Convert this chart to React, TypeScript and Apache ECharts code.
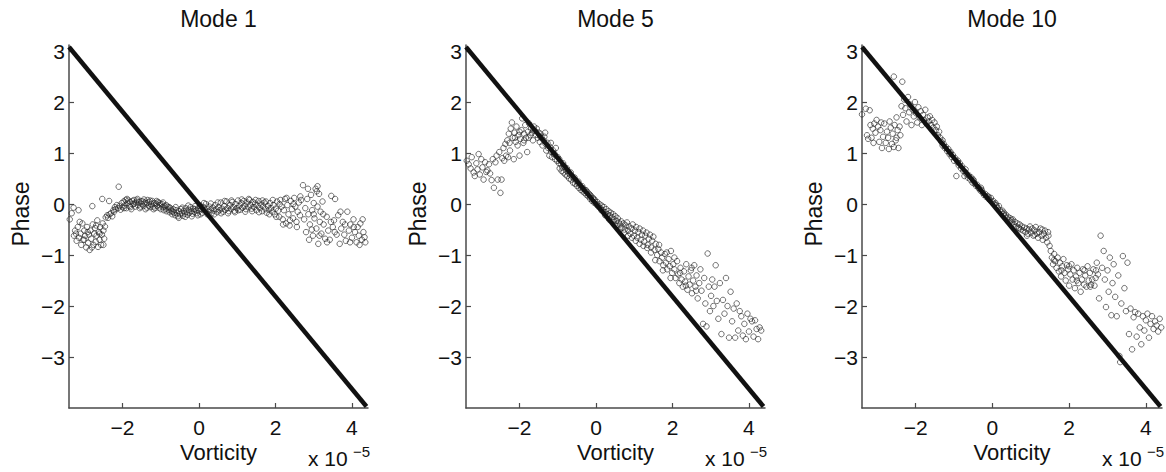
import React, { useEffect, useRef } from "react";
import * as echarts from "echarts";

// ---------- DATA (vorticity in units of 1e-5, phase in radians) ----------
const TITLES = ["Mode 1", "Mode 5", "Mode 10"];
const X_TICKS = [-2, 0, 2, 4];
const Y_TICKS = [-3, -2, -1, 0, 1, 2, 3];
const X_MIN = -3.4;
const X_MAX = 4.42;
const Y_MIN = -4;
const Y_MAX = 3.12;
const FIT_LINE: number[][] = [[-3.4, 3.08], [4.38, -3.97]];

const MODE1: number[][] = [
  [-3.38,-0.30],[-3.33,-0.18],[-3.28,-0.07],[-3.27,-0.62],[-3.24,-0.52],[-3.2,-0.72],[-3.17,-0.45],[-3.15,-0.12],[-3.14,-0.66],[-3.1,-0.58],
  [-3.08,-0.80],[-3.05,-0.38],[-3.03,-0.70],[-3.0,-0.52],[-2.98,-0.62],[-2.95,-0.85],[-2.93,-0.45],[-2.9,-0.76],[-2.88,-0.60],[-2.86,-0.90],
  [-2.84,-0.52],[-2.82,-0.68],[-2.79,-0.04],[-2.78,-0.40],[-2.76,-0.80],[-2.74,-0.58],[-2.72,-0.47],[-2.7,-0.74],[-2.68,-0.62],[-2.66,-0.32],
  [-2.64,-0.84],[-2.62,-0.55],[-2.6,-0.70],[-2.58,-0.45],[-2.56,-0.80],[-2.54,-0.60],[-2.53,0.10],[-2.52,-0.38],[-2.5,-0.52],[-2.48,-0.68],[-2.46,-0.44],
  [-3.22,-0.58],[-3.0,-0.70],[-2.91,-0.55],[-2.8,-0.85],[-2.69,-0.42],[-2.6,-0.58],[-2.5,-0.80],[-3.12,-0.35],
  [-2.44,-0.26],[-2.4,-0.22],[-2.38,-0.27],[-2.35,0.06],[-2.34,-0.20],[-2.3,-0.18],[-2.27,-0.24],[-2.24,-0.12],[-2.22,-0.15],[-2.2,-0.06],
  [-2.18,-0.10],[-2.15,-0.02],[-2.12,-0.08],[-2.1,0.34],[-2.08,-0.04],[-2.05,-0.11],[-2.02,0.02],[-2.0,-0.06],
  [-1.97,0.05],[-1.95,-0.03],[-1.92,0.08],[-1.9,-0.08],[-1.87,0.02],[-1.85,0.07],[-1.82,-0.04],[-1.8,0.04],[-1.77,-0.10],[-1.75,0.06],
  [-1.72,0.0],[-1.7,0.08],[-1.67,-0.05],[-1.65,0.03],[-1.62,0.07],[-1.6,-0.02],[-1.57,0.04],[-1.55,-0.08],[-1.52,0.06],[-1.5,0.0],
  [-1.47,0.05],[-1.45,-0.04],[-1.42,0.03],[-1.4,-0.10],[-1.37,0.02],[-1.35,0.08],[-1.32,-0.03],[-1.3,0.04],[-1.27,-0.06],[-1.25,0.0],
  [-1.22,0.06],[-1.2,-0.05],[-1.17,0.02],[-1.15,-0.08],[-1.12,0.01],[-1.1,-0.03],[-1.07,0.04],[-1.05,-0.07],[-1.02,-0.02],[-1.0,-0.10],
  [-0.97,0.0],[-0.95,-0.06],[-0.92,-0.12],[-0.9,-0.04],[-0.87,-0.09],[-0.85,-0.14],[-0.82,-0.05],[-0.8,-0.11],
  [-1.96,-0.08],[-1.88,0.10],[-1.79,-0.06],[-1.69,0.01],[-1.61,0.10],[-1.53,-0.05],[-1.44,0.09],[-1.36,-0.07],[-1.28,0.07],[-1.19,-0.10],
  [-1.11,0.06],[-1.03,0.02],[-0.94,0.03],[-0.86,-0.02],[-0.78,-0.06],[-0.69,-0.15],[-0.61,-0.06],[-0.53,-0.27],[-0.44,-0.07],[-0.36,-0.25],
  [-0.28,-0.03],[-0.19,-0.24],[-0.11,-0.10],[-0.03,-0.22],
  [-0.77,-0.16],[-0.75,-0.08],[-0.72,-0.13],[-0.7,-0.20],[-0.67,-0.10],[-0.65,-0.17],[-0.62,-0.22],[-0.6,-0.12],[-0.57,-0.18],[-0.55,-0.24],
  [-0.52,-0.14],[-0.5,-0.20],[-0.47,-0.10],[-0.45,-0.17],[-0.42,-0.23],[-0.4,-0.13],[-0.37,-0.19],[-0.35,-0.08],[-0.32,-0.15],[-0.3,-0.21],
  [-0.27,-0.11],[-0.25,-0.17],[-0.22,-0.06],[-0.2,-0.14],[-0.17,-0.19],[-0.15,-0.09],[-0.12,-0.15],[-0.1,-0.04],[-0.07,-0.12],[-0.05,-0.18],[-0.02,-0.08],
  [0.0,-0.14],[0.03,-0.03],[0.06,-0.10],[0.09,-0.17],[0.12,-0.06],[0.15,-0.12],[0.18,0.0],[0.21,-0.09],[0.24,-0.15],[0.27,-0.05],
  [0.3,-0.11],[0.33,-0.18],[0.36,-0.07],[0.39,-0.13],[0.42,-0.02],[0.45,-0.10],[0.48,-0.16],[0.51,-0.06],[0.54,-0.12],[0.57,0.03],
  [0.6,-0.09],[0.63,-0.15],[0.66,-0.04],[0.69,-0.11],[0.72,0.05],[0.75,-0.08],[0.78,-0.14],[0.81,-0.02],[0.84,-0.09],[0.87,0.04],
  [0.9,-0.06],[0.93,-0.13],[0.96,0.0],[0.99,-0.08],[1.02,0.07],[1.05,-0.04],[1.08,-0.11],[1.11,0.02],[1.14,-0.07],[1.17,0.06],
  [1.2,-0.03],[1.23,-0.10],[1.26,0.03],[1.29,-0.05],[1.32,0.08],[1.35,-0.02],[1.38,-0.09],[1.41,0.04],[1.44,-0.06],[1.47,0.01],
  [1.5,-0.12],[1.53,-0.03],[1.56,0.06],[1.59,-0.08],[1.62,-0.01],[1.65,-0.14],[1.68,-0.05],[1.71,0.03],[1.74,-0.10],[1.77,-0.17],
  [1.8,-0.04],[1.83,-0.11],[1.86,0.02],[1.89,-0.08],[1.92,-0.15],[1.95,-0.02],[1.98,-0.20],[2.01,-0.09],[2.04,0.05],[2.07,-0.13],
  [0.04,-0.20],[0.13,0.02],[0.22,-0.20],[0.31,0.01],[0.40,-0.20],[0.49,0.03],[0.58,-0.18],[0.67,0.06],[0.76,-0.18],[0.85,0.07],
  [0.94,-0.16],[1.03,-0.12],[1.12,0.09],[1.21,-0.15],[1.30,0.10],[1.39,-0.14],[1.48,0.08],[1.57,-0.16],[1.66,0.07],[1.75,0.05],
  [1.84,-0.20],[1.93,0.08],[2.02,-0.25],
  [2.1,-0.25],[2.13,0.08],[2.16,-0.05],[2.19,-0.30],[2.22,-0.12],[2.25,0.10],[2.28,-0.38],[2.31,-0.02],[2.34,-0.20],[2.37,-0.42],
  [2.4,0.06],[2.43,-0.10],[2.46,-0.28],[2.49,0.12],[2.52,-0.05],[2.55,-0.35],[2.58,-0.15],[2.61,0.03],[2.64,-0.22],[2.67,0.08],
  [2.11,0.0],[2.2,-0.40],[2.29,0.12],[2.38,-0.32],[2.47,0.0],[2.56,-0.45],[2.65,0.15],
  [2.72,0.37],[2.75,-0.30],[2.78,-0.08],[2.8,-0.55],[2.83,0.10],[2.86,-0.20],[2.88,-0.70],[2.9,-0.40],[2.93,0.18],[2.96,-0.12],
  [2.98,-0.62],[3.0,0.02],[3.02,-0.28],[3.05,0.30],[3.07,-0.48],[3.08,0.25],[3.1,-0.05],[3.12,-0.78],[3.14,0.20],[3.16,-0.35],
  [3.18,-0.15],[3.2,-0.58],[3.23,0.05],[3.26,-0.40],[3.3,-0.68],[3.34,-0.25],[3.38,-0.52],[3.42,-0.70],[3.46,0.16],[3.5,-0.45],
  [3.53,-0.32],[3.56,0.10],[3.6,-0.60],[3.64,-0.22],[3.68,-0.78],[3.72,-0.48],[3.76,-0.35],[3.8,-0.60],[3.84,-0.72],[3.88,-0.15],
  [3.92,-0.52],[3.96,-0.40],[4.0,-0.66],[4.04,-0.30],[4.08,-0.55],[4.12,-0.75],[4.15,-0.45],[4.18,-0.62],[4.22,-0.38],[4.26,-0.70],
  [4.3,-0.55],[4.33,-0.65],
  [2.85,0.30],[2.95,-0.50],[3.0,-0.20],[3.1,0.35],[3.15,-0.62],[3.25,-0.20],[3.35,-0.75],[3.45,-0.35],[3.55,-0.55],[3.7,-0.15],
  [3.82,-0.40],[3.95,-0.75],[4.05,-0.45],[4.2,-0.80],[4.28,-0.30],[4.35,-0.75]
];

const MODE5: number[][] = [
  [-3.38,0.85],[-3.33,0.78],[-3.28,0.70],[-3.25,0.92],[-3.2,0.62],[-3.17,0.55],[-3.13,0.80],[-3.1,0.68],[-3.07,0.98],[-3.04,0.58],
  [-3.0,0.88],[-2.97,0.72],[-2.94,0.48],[-2.9,0.82],[-2.87,0.63],[-2.84,0.66],[-2.8,0.78],[-2.77,0.60],[-2.73,0.47],[-2.7,0.88],
  [-2.67,0.32],[-2.63,0.82],[-2.6,0.95],[-2.57,0.48],[-2.53,1.02],[-2.5,0.22],[-2.47,0.48],[-2.45,0.9],[-2.42,1.1],[-2.4,0.85],
  [-2.37,1.18],[-2.35,0.95],[-2.32,1.25],[-2.3,0.92],[-2.28,1.38],[-2.25,1.05],[-2.23,1.48],[-2.2,1.60],[-2.18,1.30],[-2.15,0.88],
  [-2.13,1.40],[-2.1,1.22],[-2.08,1.52],[-2.05,1.15],[-2.03,1.35],[-2.0,0.95],[-1.98,1.28],[-1.95,1.45],[-1.93,1.68],[-1.9,1.20],
  [-1.88,1.38],[-1.85,1.55],[-1.83,1.30],[-1.8,1.02],[-1.78,1.42],[-1.75,1.58],[-1.72,1.35],[-1.7,1.48],[-1.67,1.40],[-1.65,1.25],
  [-1.62,1.52],[-1.6,1.44],[-1.57,1.36],[-1.55,1.48],[-1.52,1.30],[-1.5,1.40],[-1.47,1.22],[-1.45,1.38],[-1.42,1.30],[-1.4,1.15],
  [-1.37,1.25],[-1.35,1.32],[-1.32,1.18],[-1.3,1.05],[-1.27,1.20],[-1.25,1.10],[-1.22,0.95],[-1.2,1.12],[-1.17,1.02],[-1.15,0.92],
  [-1.12,1.05],[-1.1,0.98],[-1.07,0.88],[-1.05,1.10],[-1.02,0.85],[-1.0,0.92],
  [-2.26,1.20],[-2.12,1.30],[-2.0,1.42],[-1.88,1.25],[-1.76,1.30],[-1.64,1.45],[-1.46,1.32],[-1.33,1.40],[-1.18,1.20],[-1.08,0.98],
  [-0.97,0.80],[-0.95,0.70],[-0.92,0.78],[-0.9,0.65],[-0.88,0.72],[-0.85,0.62],[-0.83,0.74],[-0.8,0.58],[-0.78,0.66],[-0.75,0.55],
  [-0.73,0.62],[-0.7,0.50],[-0.68,0.58],[-0.65,0.48],[-0.63,0.54],[-0.6,0.42],[-0.58,0.50],[-0.55,0.40],[-0.53,0.46],[-0.5,0.36],
  [-0.48,0.42],[-0.45,0.32],[-0.43,0.38],[-0.4,0.28],[-0.38,0.33],[-0.35,0.25],[-0.33,0.30],[-0.3,0.22],[-0.28,0.27],[-0.25,0.18],
  [-0.23,0.24],[-0.2,0.15],[-0.18,0.20],[-0.15,0.10],[-0.13,0.16],[-0.1,0.06],[-0.08,0.12],[-0.05,0.03],[-0.03,0.08],[0.0,0.0],
  [0.03,0.04],[0.06,-0.05],[0.09,0.0],[0.12,-0.08],[0.15,-0.03],[0.18,-0.12],[0.21,-0.06],[0.24,-0.16],[0.27,-0.10],[0.3,-0.20],
  [0.33,-0.14],[0.36,-0.22],[0.39,-0.17],[0.42,-0.26],[0.45,-0.20],[0.48,-0.30],[0.51,-0.24],[0.54,-0.33],[0.57,-0.28],[0.6,-0.36],
  [-0.96,0.88],[-0.86,0.80],[-0.76,0.70],[-0.66,0.62],[-0.56,0.52],[-0.46,0.44],[-0.36,0.35],[-0.26,0.27],[-0.16,0.18],[-0.06,0.10],
  [0.04,-0.02],[0.14,-0.12],[0.24,-0.22],[0.34,-0.30],[0.44,-0.35],[0.54,-0.42],[0.64,-0.48],[0.74,-0.56],[0.84,-0.62],[0.94,-0.66],
  [1.04,-0.72],[1.14,-0.78],[1.24,-0.82],[1.34,-0.86],[1.44,-0.95],
  [0.63,-0.40],[0.66,-0.34],[0.69,-0.46],[0.72,-0.38],[0.75,-0.50],[0.78,-0.42],[0.81,-0.36],[0.84,-0.52],[0.87,-0.44],[0.9,-0.58],
  [0.93,-0.48],[0.96,-0.40],[0.99,-0.62],[1.02,-0.52],[1.05,-0.45],[1.08,-0.66],[1.11,-0.55],[1.14,-0.48],[1.17,-0.70],[1.2,-0.60],
  [1.23,-0.52],[1.26,-0.74],[1.29,-0.62],[1.32,-0.56],[1.35,-0.80],[1.38,-0.68],[1.41,-0.60],[1.44,-0.85],[1.47,-0.72],[1.5,-0.64],
  [1.53,-0.90],[1.56,-0.78],[1.6,-1.00],[1.63,-0.88],[1.66,-1.12],[1.7,-0.95],[1.73,-1.05],[1.76,-1.20],[1.8,-0.98],[1.83,-1.15],
  [1.86,-1.28],[1.9,-1.08],[1.93,-1.22],[1.96,-0.92],[1.99,-1.35],[2.02,-1.18],[2.05,-1.28],[2.08,-1.45],[2.12,-1.12],[2.15,-1.38],
  [2.18,-1.55],[2.21,-1.25],[2.24,-1.48],[2.27,-1.62],[2.3,-1.32],[2.33,-1.52],[2.36,-1.18],[2.39,-1.68],[2.42,-1.42],[2.45,-1.58],
  [2.48,-1.30],[2.51,-1.75],[2.54,-1.50],[2.57,-1.20],[2.6,-1.62],
  [1.55,-1.10],[1.65,-0.80],[1.75,-1.30],[1.85,-0.95],[1.95,-1.45],[2.05,-1.05],[2.20,-1.35],[2.35,-1.60],[2.50,-1.25],[2.62,-1.70],
  [2.63,-1.40],[2.66,-1.85],[2.7,-1.55],[2.73,-1.28],[2.76,-1.70],[2.8,-2.35],[2.83,-1.45],[2.86,-1.95],[2.89,-2.40],[2.92,-0.97],
  [2.95,-1.62],[2.98,-2.10],[3.01,-1.80],[3.04,-1.48],[3.07,-2.00],[3.1,-1.62],[3.13,-1.20],[3.16,-1.90],[3.2,-2.25],[3.24,-1.55],
  [3.28,-2.55],[3.32,-1.88],[3.36,-2.15],[3.4,-1.45],[3.44,-2.00],[3.48,-2.62],[3.52,-1.72],[3.56,-2.30],[3.6,-2.05],[3.64,-2.62],
  [3.68,-1.95],[3.72,-2.48],[3.76,-2.10],[3.8,-2.20],[3.84,-2.58],[3.88,-2.35],[3.92,-2.65],[3.96,-2.15],[4.0,-2.50],[4.04,-2.25],
  [4.08,-2.30],[4.12,-2.60],[4.16,-2.28],[4.2,-2.45],[4.24,-2.65],[4.28,-2.42],[4.32,-2.48]
];

const MODE10: number[][] = [
  [-3.4,1.76],[-3.3,1.87],[-3.2,1.84],[-3.27,1.35],[-3.24,1.28],[-3.18,1.55],[-3.15,1.30],[-3.12,1.48],[-3.08,1.58],[-3.05,1.40],
  [-3.02,1.65],[-2.98,1.52],[-2.95,1.22],[-2.92,1.45],[-2.88,1.10],[-2.85,1.32],[-2.82,1.58],[-2.78,1.20],[-2.75,1.42],[-2.72,1.30],
  [-2.68,1.62],[-2.65,1.50],[-2.62,1.18],[-2.6,1.38],[-2.57,1.12],[-2.55,1.55],[-2.52,1.25],[-2.5,1.70],[-2.47,1.45],[-2.45,1.10],
  [-2.42,1.52],[-2.4,1.35],[-2.57,2.50],[-2.35,2.40],
  [-3.10,1.20],[-2.90,1.60],[-2.70,1.08],[-2.50,1.30],
  [-2.37,1.92],[-2.33,1.75],[-2.3,2.05],[-2.27,1.88],[-2.24,1.62],[-2.2,2.10],[-2.17,1.80],[-2.14,1.95],[-2.11,1.55],[-2.08,1.85],
  [-2.05,1.72],[-2.02,2.00],[-1.99,1.78],[-1.96,1.60],[-1.93,1.90],[-1.9,1.70],[-1.87,1.82],[-1.84,1.55],[-1.81,1.75],[-1.78,1.65],
  [-1.75,1.85],[-1.72,1.58],[-1.69,1.70],[-1.66,1.62],[-1.63,1.72],[-1.6,1.55],[-1.57,1.65],[-1.54,1.50],[-1.51,1.60],[-1.48,1.45],
  [-1.45,1.52],[-1.42,1.35],[-1.39,1.42],[-1.36,1.30],
  [-1.33,1.22],[-1.3,1.15],[-1.27,1.18],[-1.24,1.10],[-1.21,1.12],[-1.18,1.04],[-1.15,1.08],[-1.12,0.98],[-1.09,1.02],[-1.06,0.92],
  [-1.03,0.96],[-1.0,0.85],[-0.97,0.90],[-0.94,0.55],[-0.91,0.82],[-0.88,0.76],[-0.85,0.80],[-0.82,0.70],[-0.79,0.74],[-0.76,0.65],
  [-0.73,0.55],[-0.7,0.62],[-0.67,0.58],[-0.64,0.52],[-0.61,0.56],[-0.58,0.48],[-0.55,0.52],[-0.52,0.42],[-0.49,0.46],[-0.46,0.40],
  [-0.43,0.36],[-0.4,0.38],[-0.37,0.32],[-0.34,0.30],[-0.31,0.26],[-0.28,0.28],[-0.25,0.22],[-0.22,0.18],[-0.19,0.20],[-0.16,0.14],
  [-0.13,0.16],[-0.1,0.10],[-0.07,0.08],[-0.04,0.12],[-0.01,0.04],[0.02,0.06],[0.05,0.0],[0.08,0.02],[0.11,-0.05],[0.14,-0.08],
  [0.17,-0.04],[0.2,-0.12],[0.23,-0.16],[0.26,-0.13],[0.29,-0.20],[0.32,-0.24],[0.35,-0.21],[0.38,-0.28],
  [-1.30,1.25],[-1.10,1.00],[-0.90,0.85],[-0.70,0.68],[-0.50,0.48],[-0.30,0.32],[-0.10,0.14],[0.10,-0.02],[0.30,-0.17],[0.50,-0.32],
  [0.70,-0.48],[0.90,-0.62],[1.10,-0.60],[1.30,-0.50],[1.45,-0.55],
  [0.41,-0.25],[0.44,-0.32],[0.47,-0.28],[0.5,-0.36],[0.53,-0.30],[0.56,-0.40],[0.59,-0.35],[0.62,-0.44],[0.65,-0.38],[0.68,-0.46],
  [0.71,-0.40],[0.74,-0.50],[0.77,-0.44],[0.8,-0.52],[0.83,-0.46],[0.86,-0.55],[0.89,-0.48],[0.92,-0.58],[0.95,-0.50],[0.98,-0.44],
  [1.01,-0.56],[1.04,-0.48],[1.07,-0.62],[1.1,-0.52],[1.13,-0.45],[1.16,-0.58],[1.19,-0.66],[1.22,-0.55],[1.25,-0.48],[1.28,-0.62],
  [1.31,-0.70],[1.34,-0.58],[1.37,-0.52],[1.4,-0.66],[1.43,-0.75],[1.46,-0.62],[1.49,-0.82],
  [1.52,-0.92],[1.55,-1.05],[1.58,-1.18],[1.61,-0.98],[1.64,-1.12],[1.67,-1.25],[1.7,-1.05],[1.73,-1.32],[1.76,-1.15],[1.79,-1.42],
  [1.82,-1.22],[1.85,-1.08],[1.88,-1.35],[1.91,-1.50],[1.94,-1.20],[1.97,-1.28],[2.0,-1.60],[2.03,-1.38],[2.06,-1.18],[2.09,-1.48],
  [2.12,-1.30],[2.15,-1.65],[2.18,-1.42],[2.21,-1.25],[2.24,-1.55],[2.27,-1.35],[2.3,-1.72],[2.33,-1.48],[2.36,-1.28],[2.39,-1.58],
  [2.42,-1.40],[2.45,-1.62],[2.48,-1.22],[2.51,-1.50],[2.54,-1.35],[2.57,-1.58],[2.6,-1.48],[2.63,-1.28],[2.66,-1.60],[2.69,-1.45],
  [2.72,-1.15],[2.75,-1.38],
  [1.60,-1.10],[1.80,-1.30],[2.00,-1.22],[2.20,-1.50],[2.40,-1.30],[2.55,-1.62],[2.70,-1.30],
  [2.78,-1.85],[2.82,-0.62],[2.86,-1.25],[2.9,-0.92],[2.93,-1.48],[2.96,-2.02],[3.0,-1.30],[3.03,-1.72],[3.06,-1.05],[3.1,-2.18],
  [3.13,-1.55],[3.16,-1.18],[3.2,-1.82],[3.24,-2.20],[3.28,-1.40],[3.31,-2.98],[3.33,-3.10],[3.36,-1.95],[3.4,-1.02],[3.44,-1.65],
  [3.48,-2.10],[3.52,-1.15],[3.56,-2.55],[3.6,-2.05],[3.64,-2.85],[3.68,-2.22],[3.72,-2.12],[3.76,-2.60],[3.8,-2.15],[3.84,-2.42],
  [3.88,-2.75],[3.92,-2.20],[3.96,-2.48],[4.0,-2.28],[4.04,-2.15],[4.08,-2.62],[4.12,-2.35],[4.16,-2.20],[4.2,-2.45],[4.24,-2.30],
  [4.28,-2.38],[4.32,-2.50],[4.36,-2.25],[4.4,-2.42]
];

const PANEL_DATA = [MODE1, MODE5, MODE10];

// ---------- LAYOUT / STYLE ----------
const FONT = "'Liberation Sans', Arial, Helvetica, sans-serif";
const PANEL_LEFT = [69, 466, 862];
const PANEL_WIDTH = [299, 299, 300];
const GRID_TOP = 45;
const GRID_HEIGHT = 363;
const AXIS_COLOR = "#4a4a4a";
const TEXT_COLOR = "#111";

const minusFmt = (v: number) => (v < 0 ? "\u2212" + Math.abs(v) : String(v));

function textEl(x: number, y: number, text: string, size: number, align: string, vAlign: string, rotation = 0) {
  return {
    type: "text",
    x,
    y,
    rotation,
    style: {
      text,
      fill: TEXT_COLOR,
      font: `${size}px ${FONT}`,
      align,
      verticalAlign: vAlign,
      textAlign: align,
      textVerticalAlign: vAlign,
    },
  };
}

function buildOption() {
  const grid: any[] = [];
  const xAxis: any[] = [];
  const yAxis: any[] = [];
  const series: any[] = [];
  const graphic: any[] = [];

  PANEL_DATA.forEach((pts, i) => {
    const left = PANEL_LEFT[i];
    const width = PANEL_WIDTH[i];
    const right = left + width;
    grid.push({ left, top: GRID_TOP, width, height: GRID_HEIGHT, containLabel: false });
    xAxis.push({
      gridIndex: i,
      type: "value",
      min: X_MIN,
      max: X_MAX,
      axisLine: { show: true, onZero: false, lineStyle: { color: AXIS_COLOR, width: 1.5 } },
      axisTick: { show: true, inside: true, length: 5, customValues: X_TICKS, lineStyle: { color: AXIS_COLOR, width: 1.2 } },
      axisLabel: {
        customValues: X_TICKS,
        formatter: minusFmt,
        fontSize: 21,
        lineHeight: 21,
        color: TEXT_COLOR,
        fontFamily: FONT,
        margin: 9,
      },
      splitLine: { show: false },
    });
    yAxis.push({
      gridIndex: i,
      type: "value",
      min: Y_MIN,
      max: Y_MAX,
      axisLine: { show: true, onZero: false, lineStyle: { color: AXIS_COLOR, width: 1.5 } },
      axisTick: { show: true, inside: true, length: 5, customValues: Y_TICKS, lineStyle: { color: AXIS_COLOR, width: 1.2 } },
      axisLabel: {
        customValues: Y_TICKS,
        formatter: minusFmt,
        fontSize: 21,
        color: TEXT_COLOR,
        fontFamily: FONT,
        margin: 4,
      },
      splitLine: { show: false },
    });
    series.push({
      type: "scatter",
      xAxisIndex: i,
      yAxisIndex: i,
      data: pts,
      symbol: "circle",
      symbolSize: 5.5,
      itemStyle: { color: "rgba(255,255,255,0)", borderColor: "#222", borderWidth: 0.8 },
      z: 2,
    });
    series.push({
      type: "line",
      xAxisIndex: i,
      yAxisIndex: i,
      data: FIT_LINE,
      showSymbol: false,
      symbol: "none",
      lineStyle: { color: "#111", width: 4.5 },
      z: 3,
    });

    const cx = left + width / 2;
    graphic.push(textEl(cx, 19, TITLES[i], 23, "center", "middle"));
    graphic.push(textEl(cx, 452, "Vorticity", 22, "center", "middle"));
    graphic.push(textEl(left - 48, 214, "Phase", 23, "center", "middle", Math.PI / 2));
    graphic.push(textEl(right - 60, 469, "x 10", 21, "left", "bottom"));
    graphic.push(textEl(right - 15, 459, "\u22125", 15, "left", "bottom"));
  });

  return {
    animation: false,
    backgroundColor: "#ffffff",
    grid,
    xAxis,
    yAxis,
    series,
    graphic,
  };
}

export default function App() {
  const ref = useRef<HTMLDivElement>(null);
  useEffect(() => {
    if (!ref.current) return;
    const chart = echarts.init(ref.current, undefined, { renderer: "svg" });
    chart.setOption(buildOption() as any);
    return () => chart.dispose();
  }, []);
  return (
    <div
      ref={ref}
      style={{ position: "absolute", left: 0, top: 0, width: 1166, height: 472, background: "#fff" }}
    />
  );
}
